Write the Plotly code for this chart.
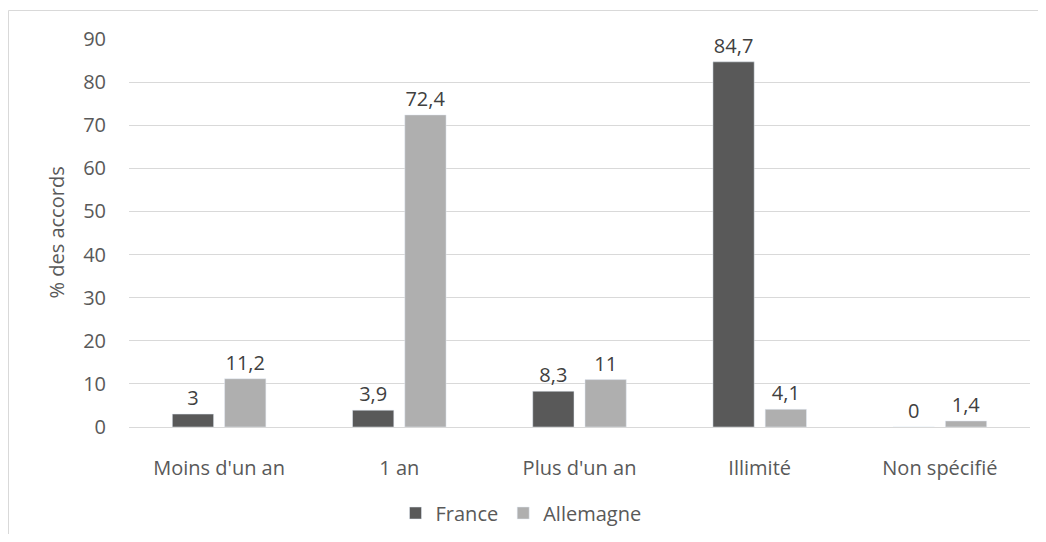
import plotly.graph_objects as go

categories = ["Moins d'un an", "1 an", "Plus d'un an", "Illimité", "Non spécifié"]
france = [3, 3.9, 8.3, 84.7, 0]
allemagne = [11.2, 72.4, 11, 4.1, 1.4]
y_ticks = [0, 10, 20, 30, 40, 50, 60, 70, 80, 90]


def fmt(v):
    s = str(int(v)) if float(v).is_integer() else str(v)
    return s.replace(".", ",")


FONT = "Open Sans, Lato, sans-serif"
TXT = "#595959"
FS = 20

fig = go.Figure()
fig.add_trace(go.Bar(name="France", x=categories, y=france,
                     text=[fmt(v) for v in france], textposition="outside",
                     marker_color="#595959", cliponaxis=False))
fig.add_trace(go.Bar(name="Allemagne", x=categories, y=allemagne,
                     text=[fmt(v) for v in allemagne], textposition="outside",
                     marker_color="#afafaf", cliponaxis=False))

fig.update_traces(textfont=dict(family=FONT, size=FS, color="#404040"))

# page offset of 8px (body margin) compensated
OFF = 8
W, H = 1030, 526
L, R, T, B = 121, 8, 31, 107
pw, ph = W - L - R, H - T - B


def px_to_paper_x(px):
    return (px - OFF - L) / pw


def px_to_paper_y(py):
    return (T + ph - (py - OFF)) / ph


bx, by = px_to_paper_x(8.5), px_to_paper_y(10.5)

fig.update_layout(
    width=W, height=H,
    margin=dict(l=L, r=R, t=T, b=B, autoexpand=False),
    paper_bgcolor="white", plot_bgcolor="white",
    barmode="group", bargap=0.42, bargroupgap=0.21,
    font=dict(family=FONT, size=FS, color=TXT),
    showlegend=True,
    legend=dict(orientation="h", x=px_to_paper_x(521), xanchor="center",
                y=px_to_paper_y(513), yanchor="middle",
                font=dict(family=FONT, size=FS, color=TXT),
                itemwidth=30, traceorder="normal"),
    xaxis=dict(showgrid=False, showline=True, linecolor="#d9d9d9", linewidth=1,
               ticks="", tickfont=dict(family=FONT, size=FS, color=TXT),
               ticklabelstandoff=23),
    yaxis=dict(range=[0, 90], tickvals=y_ticks, showgrid=True, gridcolor="#d9d9d9",
               gridwidth=1, zeroline=False, showline=False, ticks="",
               tickfont=dict(family=FONT, size=FS, color=TXT),
               ticklabelstandoff=22),
    annotations=[dict(text="% des accords", textangle=-90,
                      x=px_to_paper_x(40), y=px_to_paper_y(233),
                      xref="paper", yref="paper", showarrow=False,
                      font=dict(family=FONT, size=FS, color=TXT))],
    shapes=[
        dict(type="line", xref="paper", yref="paper",
             x0=bx, x1=1.05, y0=by, y1=by,
             line=dict(color="#d9d9d9", width=1), layer="below"),
        dict(type="line", xref="paper", yref="paper",
             x0=bx, x1=bx, y0=by, y1=-0.4,
             line=dict(color="#d9d9d9", width=1), layer="below"),
    ],
)

fig.write_html("out.html")
